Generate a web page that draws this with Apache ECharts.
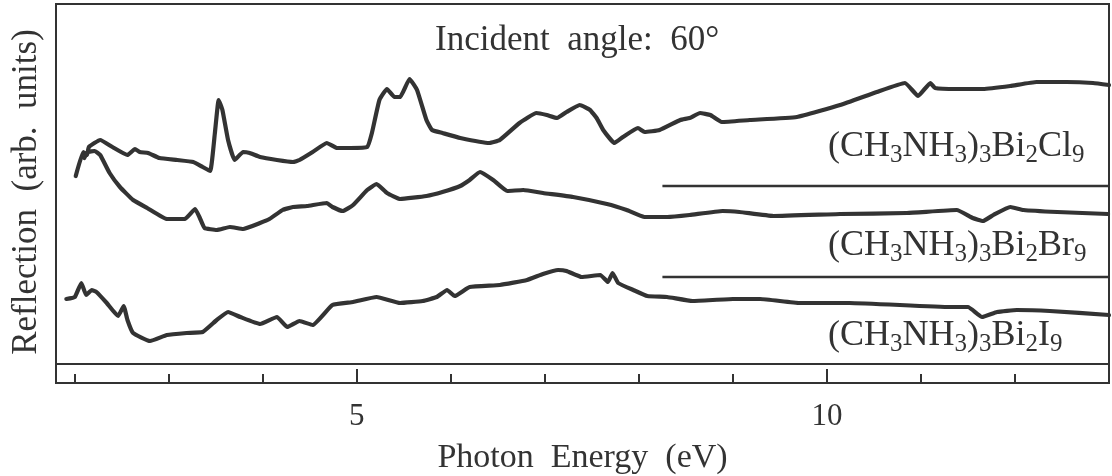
<!DOCTYPE html>
<html>
<head>
<meta charset="utf-8">
<script src="https://cdn.jsdelivr.net/npm/echarts@6/dist/echarts.min.js"></script>
<style>
  html, body { margin: 0; padding: 0; background: #fff; }
  #chart { width: 1112px; height: 476px; }
</style>
</head>
<body>
<div id="chart"></div>
<script>
// Reflection spectra of (CH3NH3)3Bi2X9 (X = Cl, Br, I), arbitrary units, offset vertically.
const FONT = "'Liberation Serif', 'Times New Roman', serif";
const INK = '#333333';

const chlorideEnergy = [2.01, 2.09, 2.13, 2.15, 2.27, 2.40, 2.56, 2.64, 2.69, 2.78, 2.90, 3.09, 3.26, 3.36, 3.44,
  3.49, 3.53, 3.57, 3.63, 3.70, 3.79, 3.86, 3.97, 4.15, 4.32, 4.39, 4.53, 4.68, 4.79, 4.93, 5.11, 5.16, 5.24,
  5.32, 5.40, 5.46, 5.56, 5.64, 5.74, 5.80, 5.91, 6.10, 6.41, 6.52, 6.73, 6.91, 7.02, 7.13, 7.23, 7.37, 7.48,
  7.55, 7.62, 7.74, 7.83, 7.99, 8.06, 8.22, 8.44, 8.54, 8.65, 8.76, 8.88, 9.18, 9.68, 10.14, 10.53, 10.83,
  10.97, 11.10, 11.15, 11.38, 11.66, 11.95, 12.23, 12.55, 12.83, 13.0];
const chlorideReflection = [188, 212, 209, 217, 224, 217, 209, 215, 212, 211, 206, 204, 202, 197, 193,
  231, 264, 254, 224, 204, 212, 211, 207, 204, 202, 204, 212, 221, 216, 216, 217, 231, 264,
  275, 267, 267, 285, 274, 244, 234, 231, 226, 221, 224, 241, 251, 249, 246, 252, 259, 254,
  246, 234, 221, 227, 236, 232, 234, 244, 246, 251, 249, 242, 244, 247, 259, 272, 281,
  268, 281, 276, 275, 275, 278, 282, 282, 281, 279];

const bromideEnergy = [2.10, 2.14, 2.21, 2.27, 2.37, 2.48, 2.62, 2.77, 2.98, 3.17, 3.28, 3.33, 3.38, 3.51,
  3.65, 3.79, 3.97, 4.07, 4.21, 4.32, 4.47, 4.68, 4.74, 4.85, 4.96, 5.11, 5.21, 5.32, 5.46, 5.74, 5.91, 6.10,
  6.20, 6.31, 6.45, 6.60, 6.77, 6.98, 7.30, 7.66, 7.87, 8.06, 8.30, 8.54, 8.89, 9.07, 9.43, 10.14, 10.85,
  11.38, 11.55, 11.66, 11.77, 11.95, 12.09, 12.45, 12.99];
const bromideReflection = [206, 212, 213, 209, 191, 177, 164, 156, 145, 145, 155, 146, 136, 134,
  137, 135, 141, 145, 154, 157, 158, 161, 157, 153, 159, 174, 180, 171, 165, 168, 172, 178,
  184, 192, 184, 173, 174, 171, 167, 160, 154, 147, 147, 149, 153, 152, 148, 150, 151,
  154, 146, 143, 149, 157, 154, 152, 150];

const iodideEnergy = [1.91, 2.00, 2.07, 2.12, 2.18, 2.23, 2.34, 2.46, 2.52, 2.56, 2.62, 2.80, 2.98, 3.19,
  3.36, 3.51, 3.63, 3.76, 3.97, 4.15, 4.26, 4.39, 4.53, 4.74, 4.96, 5.21, 5.46, 5.70, 5.85, 5.96, 6.04, 6.20,
  6.52, 6.81, 6.98, 7.14, 7.23, 7.39, 7.59, 7.67, 7.72, 7.78, 7.94, 8.09, 8.30, 8.57, 9.00, 9.29, 9.71,
  10.24, 11.31, 11.50, 11.65, 11.81, 12.02, 12.37, 13.0];
const iodideReflection = [65, 67, 81, 69, 74, 72, 61, 48, 58, 44, 31, 23, 29, 31,
  32, 44, 52, 47, 40, 47, 37, 43, 39, 59, 62, 67, 61, 63, 67, 74, 68, 77,
  79, 84, 90, 94, 93, 87, 89, 82, 91, 81, 74, 68, 67, 63, 65, 65, 61,
  61, 57, 57, 47, 52, 54, 53, 49];

// short horizontal reference levels drawn at the right-hand side
const levelEnergy = [8.25, 13.0];
const chlorideLevel = 178;
const bromideLevel = 87;

const majorTicks = [5, 10];
const minorTicks = [2, 3, 4, 6, 7, 8, 9, 11, 12];

const zip = (xs, ys) => xs.map((x, i) => [x, ys[i]]);

function spectrum(name, xs, ys) {
  return {
    name, type: 'line', xAxisIndex: 0, yAxisIndex: 0,
    data: zip(xs, ys), showSymbol: false, smooth: 0.12,
    lineStyle: { color: INK, width: 4.2, join: 'round', cap: 'round' },
    emphasis: { disabled: true }
  };
}
function level(name, value) {
  return {
    name, type: 'line', xAxisIndex: 0, yAxisIndex: 0,
    data: levelEnergy.map(e => [e, value]), showSymbol: false,
    lineStyle: { color: INK, width: 2.5 }, emphasis: { disabled: true }
  };
}

function formula(parts) {
  // parts: alternating normal text and subscript digits
  return parts.map((p, i) => (i % 2 === 0 ? '{t|' : '{s|') + p + '}').join('');
}
const formulaRich = {
  t: { fontSize: 36, fontFamily: FONT, fill: INK, lineHeight: 44 },
  s: { fontSize: 25, fontFamily: FONT, fill: INK, lineHeight: 44, padding: [16, 0, 0, 0] }
};
function formulaLabel(parts, x, y) {
  return {
    type: 'text', x, y, silent: true,
    style: { text: formula(parts), rich: formulaRich, fill: INK, align: 'left', verticalAlign: 'middle' }
  };
}

const chart = echarts.init(document.getElementById('chart'), null, { renderer: 'canvas' });
chart.setOption({
  animation: false,
  backgroundColor: '#ffffff',
  textStyle: { fontFamily: FONT, color: INK },
  grid: [
    { left: 56, right: 3, top: 4, height: 360, show: true, borderColor: INK, borderWidth: 2, containLabel: false },
    { left: 56, right: 3, top: 364, height: 19, show: true, borderColor: INK, borderWidth: 2, containLabel: false }
  ],
  xAxis: [
    { gridIndex: 0, type: 'value', min: 1.8, max: 13, show: false },
    {
      gridIndex: 1, type: 'value', min: 1.8, max: 13, position: 'bottom',
      axisLine: { show: true, lineStyle: { color: INK, width: 2 } },
      axisTick: { show: true, inside: true, length: 9, customValues: minorTicks, lineStyle: { color: INK, width: 2 } },
      axisLabel: { show: true, customValues: majorTicks, fontSize: 31, fontFamily: FONT, color: INK, margin: 18 },
      splitLine: { show: false },
      name: 'Photon  Energy  (eV)', nameLocation: 'middle', nameGap: 58,
      nameTextStyle: { fontSize: 34, fontFamily: FONT, color: INK }
    },
    {
      gridIndex: 1, type: 'value', min: 1.8, max: 13, position: 'bottom',
      axisLine: { show: false },
      axisTick: { show: true, inside: true, length: 14, customValues: majorTicks, lineStyle: { color: INK, width: 2 } },
      axisLabel: { show: false }, splitLine: { show: false }
    }
  ],
  yAxis: [
    {
      gridIndex: 0, type: 'value', min: 0, max: 360,
      axisLine: { show: false }, axisTick: { show: false }, axisLabel: { show: false }, splitLine: { show: false },
      name: 'Reflection  (arb.  units)', nameLocation: 'middle', nameGap: 12,
      nameTextStyle: { fontSize: 35, fontFamily: FONT, color: INK, padding: [0, 16, 0, 0] }
    },
    { gridIndex: 1, type: 'value', min: 0, max: 1, show: false }
  ],
  series: [
    spectrum('(CH3NH3)3Bi2Cl9', chlorideEnergy, chlorideReflection),
    spectrum('(CH3NH3)3Bi2Br9', bromideEnergy, bromideReflection),
    spectrum('(CH3NH3)3Bi2I9', iodideEnergy, iodideReflection),
    level('Cl level', chlorideLevel),
    level('Br level', bromideLevel)
  ],
  graphic: [
    {
      type: 'text', x: 435, y: 41, silent: true,
      style: { text: 'Incident  angle:  60°', fontSize: 35, fontFamily: FONT, fill: INK, align: 'left', verticalAlign: 'middle' }
    },
    formulaLabel(['(CH', '3', 'NH', '3', ')', '3', 'Bi', '2', 'Cl', '9'], 828, 147),
    formulaLabel(['(CH', '3', 'NH', '3', ')', '3', 'Bi', '2', 'Br', '9'], 828, 246),
    formulaLabel(['(CH', '3', 'NH', '3', ')', '3', 'Bi', '2', 'I', '9'], 828, 336)
  ]
});
</script>
</body>
</html>
